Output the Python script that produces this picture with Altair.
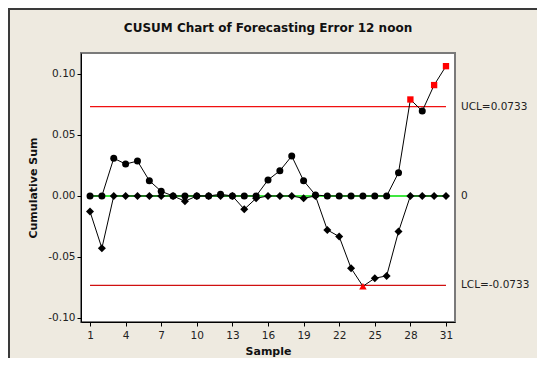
import altair as alt
import pandas as pd

title_text = "CUSUM Chart of Forecasting Error 12 noon"
samples = list(range(1, 32))
upper = [0, 0, 0.0309, 0.0262, 0.0286, 0.0125, 0.0038, 0, 0, 0, 0, 0.0014, 0, 0, 0,
         0.0131, 0.0207, 0.0327, 0.0125, 0.0008, 0, 0, 0, 0, 0, 0, 0.0191, 0.0791,
         0.0696, 0.0909, 0.1064]
lower = [-0.0128, -0.0428, 0, 0, 0, 0, 0, 0, -0.0043, 0, 0, 0, 0, -0.0109, -0.0019,
         0, 0, 0, -0.0019, 0, -0.0278, -0.0333, -0.0592, -0.0740, -0.0674, -0.0655,
         -0.0292, 0, 0, 0, 0]
ucl = 0.0733
lcl = -0.0733
x_ticks = [1, 4, 7, 10, 13, 16, 19, 22, 25, 28, 31]
y_ticks = [-0.10, -0.05, 0.00, 0.05, 0.10]
limit_values = [ucl, 0, lcl]
limit_labels = ["UCL=0.0733", "0", "LCL=-0.0733"]
limit_colors = ["#F01010", "#00E000", "#D01010"]

FONT = "DejaVu Sans"

df = pd.DataFrame({"sample": samples, "upper": upper, "lower": lower})
limits = pd.DataFrame({
    "value": limit_values,
    "label": limit_labels,
    "color": limit_colors,
    "start": [samples[0]] * 3,
    "end": [samples[-1]] * 3,
})

xscale = alt.Scale(domain=[0.24, 31.76], nice=False, zero=False)
yscale = alt.Scale(domain=[-0.1033, 0.1172], nice=False, zero=False)
xaxis = alt.Axis(values=x_ticks, title="Sample", grid=False, tickSize=4,
                 labelPadding=4, titlePadding=5, domainColor="black", tickColor="black")
yaxis = alt.Axis(values=y_ticks, title="Cumulative Sum", grid=False, tickSize=4,
                 labelPadding=2, titlePadding=9, domainColor="black", tickColor="black",
                 labelExpr="replace(format(datum.value, '.2f'), '\u2212', '-')")


def xenc(field):
    return alt.X(f"{field}:Q", scale=xscale, axis=xaxis)


def yenc(field):
    return alt.Y(f"{field}:Q", scale=yscale, axis=yaxis)


base = alt.Chart(df)
lim = alt.Chart(limits)

limit_rules = lim.mark_rule(strokeWidth=1.3).encode(
    x=xenc("start"), x2="end", y=yenc("value"),
    color=alt.Color("color:N", scale=None),
)

upper_line = base.mark_line(color="black", strokeWidth=1).encode(x=xenc("sample"), y=yenc("upper"))
lower_line = base.mark_line(color="black", strokeWidth=1).encode(x=xenc("sample"), y=yenc("lower"))

upper_in = base.transform_filter(f"datum.upper <= {ucl}").mark_point(
    shape="circle", filled=True, color="black", size=49, opacity=1
).encode(x=xenc("sample"), y=yenc("upper"))
upper_out = base.transform_filter(f"datum.upper > {ucl}").mark_point(
    shape="square", filled=True, color="#FF0000", size=40, opacity=1
).encode(x=xenc("sample"), y=yenc("upper"))
lower_in = base.transform_filter(f"datum.lower >= {lcl}").mark_point(
    shape="diamond", filled=True, color="black", size=64, opacity=1
).encode(x=xenc("sample"), y=yenc("lower"))
lower_out = base.transform_filter(f"datum.lower < {lcl}").mark_point(
    shape="triangle-up", filled=True, color="#FF0000", size=56, opacity=1
).encode(x=xenc("sample"), y=yenc("lower"))

limit_text = lim.mark_text(align="left", baseline="middle", font=FONT, fontSize=10.5,
                           color="#222222").encode(
    x=alt.value(380), y=yenc("value"), text="label:N")

one = alt.Data(values=[{}])
title_mark = alt.Chart(one).mark_text(
    text=title_text, align="center", baseline="middle", font=FONT, fontSize=12,
    fontWeight="bold", color="#111111"
).encode(x=alt.value(187), y=alt.value(-25.5))

frame_top = alt.Chart(one).mark_rule(color="#3a3a3a", strokeWidth=2).encode(
    x=alt.value(-73), x2=alt.value(460), y=alt.value(-44))
frame_left = alt.Chart(one).mark_rule(color="#3a3a3a", strokeWidth=2).encode(
    x=alt.value(-72), y=alt.value(-45), y2=alt.value(320))

chart = alt.layer(
    limit_rules, upper_line, lower_line, upper_in, lower_in, upper_out, lower_out,
    limit_text, title_mark, frame_top, frame_left
).properties(
    width=374, height=269,
    padding={"left": 73, "top": 45, "right": 82, "bottom": 36},
    autosize=alt.AutoSizeParams(type="none"),
    background="#EEEAE0",
).configure_view(
    fill="white", stroke="#7a7a7a", strokeWidth=2
).configure_axis(
    labelFont=FONT, labelFontSize=10.5, labelColor="#222222",
    titleFont=FONT, titleFontSize=11, titleFontWeight="bold", titleColor="#111111",
)

chart.save("out.html", embed_options={"renderer": "svg", "actions": False})
